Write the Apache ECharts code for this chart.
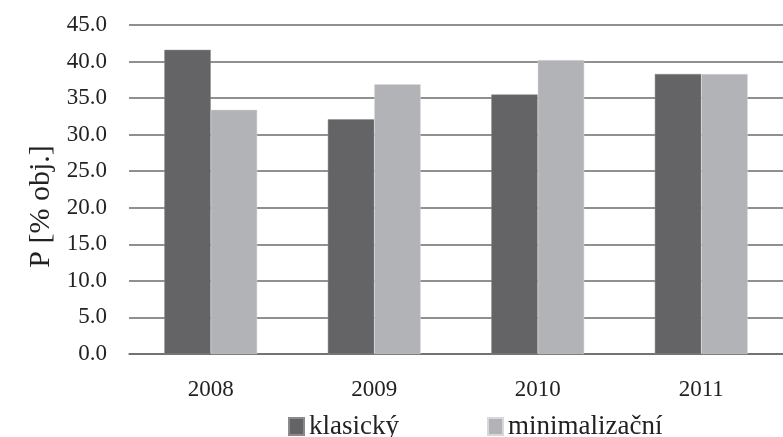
<!DOCTYPE html>
<html>
<head>
<meta charset="utf-8">
<script src="https://cdn.jsdelivr.net/npm/echarts@6/dist/echarts.min.js"></script>
<style>html,body{margin:0;padding:0;background:#fff}#c{width:783px;height:437px}</style>
</head>
<body>
<div id="c"></div>
<script>
var categories = ['2008', '2009', '2010', '2011'];
var klasicky = [41.6, 32.1, 35.5, 38.3];
var minimalizacni = [33.4, 36.9, 40.2, 38.3];
var seriesNames = ['klasický', 'minimalizační'];
var yAxisName = 'P [% obj.]';

var FONT = 'Liberation Serif';
var chart = echarts.init(document.getElementById('c'), null, {renderer: 'canvas'});
var legendText = {fontFamily: FONT, fontSize: 27, color: '#222'};
chart.setOption({
  animation: false,
  backgroundColor: '#fff',
  grid: {left: 129, right: -9, top: 25, bottom: 83, containLabel: false},
  legend: [
    {data: [seriesNames[0]], left: 283, top: 408, icon: 'rect', itemWidth: 15, itemHeight: 17, textStyle: legendText},
    {data: [seriesNames[1]], left: 482, top: 408, icon: 'rect', itemWidth: 15, itemHeight: 17, textStyle: legendText}
  ],
  xAxis: {
    type: 'category', data: categories,
    axisLine: {show: true, lineStyle: {color: '#6a6a6a', width: 1.5}},
    axisTick: {show: false},
    axisLabel: {fontFamily: FONT, fontSize: 23, color: '#222', margin: 24}
  },
  yAxis: {
    type: 'value', min: 0, max: 45, interval: 5,
    name: yAxisName, nameLocation: 'middle', nameGap: 73, nameRotate: 90,
    nameTextStyle: {fontFamily: FONT, fontSize: 30, color: '#222', padding: [0,0,0,-34]},
    axisLine: {show: false}, axisTick: {show: false},
    axisLabel: {fontFamily: FONT, fontSize: 23, color: '#222', margin: 22,
      formatter: function (v) { return v.toFixed(1); }},
    splitLine: {lineStyle: {color: '#6b6b6b', width: 1.5}}
  },
  series: [
    {name: seriesNames[0], type: 'bar', data: klasicky, barWidth: '28.4%', barGap: '0%',
     itemStyle: {color: '#646466', borderColor: '#8a8a8c', borderWidth: 0.5}},
    {name: seriesNames[1], type: 'bar', data: minimalizacni, barWidth: '28.4%', barGap: '0%',
     itemStyle: {color: '#b2b3b6', borderColor: '#d8d8da', borderWidth: 0.5}}
  ]
});
</script>
</body>
</html>
